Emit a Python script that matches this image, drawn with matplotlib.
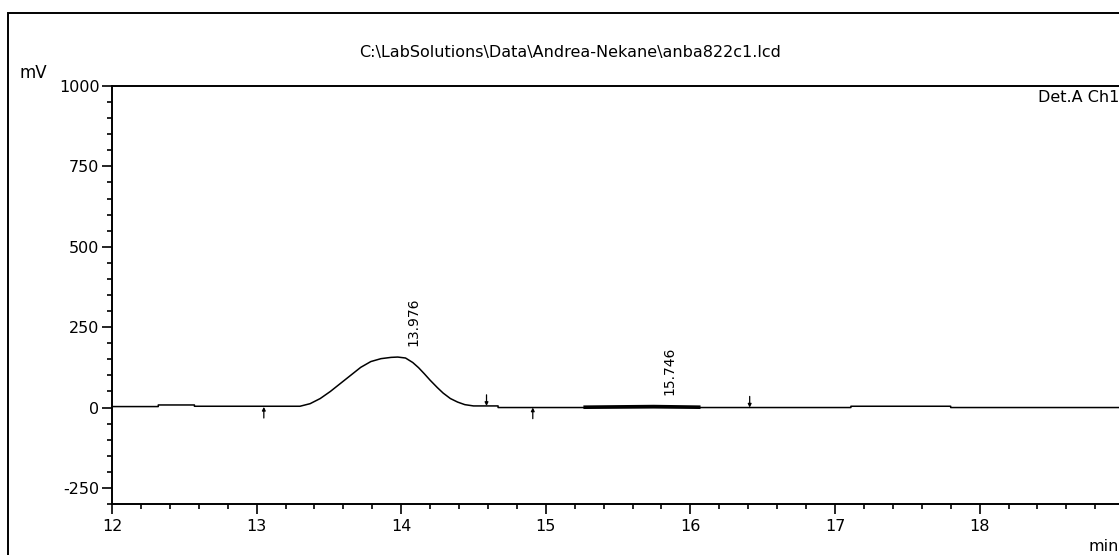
import matplotlib
matplotlib.use("Agg")
import matplotlib.pyplot as plt
from matplotlib.patches import Rectangle
from matplotlib.ticker import MultipleLocator

# ---- data ----
time_min = [12.00, 12.32, 12.32, 12.57, 12.57, 13.30, 13.37, 13.44, 13.51, 13.58,
            13.65, 13.72, 13.79, 13.86, 13.93, 13.976, 14.03, 14.08, 14.12, 14.16,
            14.20, 14.25, 14.29, 14.34, 14.39, 14.44, 14.50, 14.67, 14.67, 15.26,
            16.07, 17.11, 17.11, 17.80, 17.80, 20.00]
signal_mv = [3, 3, 8, 8, 4, 4, 12, 28, 50, 75,
             100, 125, 143, 152, 156, 157, 154, 140, 124, 105,
             85, 62, 45, 28, 17, 9, 5, 5, 0, 0,
             0, 0, 4, 4, 0, 0]

# small integrated peak at 15.746 (drawn as a thick baseline segment)
minor_peak_time = [15.26, 15.50, 15.746, 16.07]
minor_peak_mv = [1, 2, 3, 1]

peak_times = [13.976, 15.746]
peak_heights = [157, 3]
peak_labels = ["13.976", "15.746"]

marker_times = [13.05, 14.59, 14.91, 16.41]
marker_levels = [2, 5, 0, 0]
marker_dirs = ["up", "down", "up", "down"]

x_major = [12, 13, 14, 15, 16, 17, 18]
y_major = [-250, 0, 250, 500, 750, 1000]

title_text = "C:\\LabSolutions\\Data\\Andrea-Nekane\\anba822c1.lcd"

# ---- figure ----
W, H = 1119, 555
plt.rcParams['font.family'] = ['DejaVu Sans']
plt.rcParams['axes.unicode_minus'] = False
fig = plt.figure(figsize=(W / 100, H / 100), dpi=100)

# outer frame
fig.patches.append(Rectangle((8 / W, -0.2), 1.3, 0.2 + (H - 13) / H,
                             transform=fig.transFigure, fill=False,
                             edgecolor='black', lw=1.4))

ax_left, ax_top, ax_bottom = 112, 86, 504
px_per_min = 144.6
xmin, xmax = 12, 20
ax = fig.add_axes([ax_left / W, (H - ax_bottom) / H,
                   (xmax - xmin) * px_per_min / W, (ax_bottom - ax_top) / H])
ax.set_xlim(xmin, xmax)
ax.set_ylim(-300, 1000)

ax.plot(time_min, signal_mv, color='black', lw=1.1)
ax.plot(minor_peak_time, minor_peak_mv, color='black', lw=2.6, solid_capstyle='butt')

for t, h, lab in zip(peak_times, peak_heights, peak_labels):
    ax.annotate(lab, xy=(t, h), xytext=(6, 8), textcoords='offset points',
                rotation=90, ha='left', va='bottom', fontsize=10)

for t, lvl, d in zip(marker_times, marker_levels, marker_dirs):
    off = -8 if d == "up" else 8
    ax.annotate('', xy=(t, lvl), xytext=(0, off), textcoords='offset points',
                arrowprops=dict(arrowstyle='-|>', mutation_scale=5, lw=0.9,
                                color='black', shrinkA=0, shrinkB=0))

ax.set_xticks(x_major)
ax.set_yticks(y_major)
ax.xaxis.set_minor_locator(MultipleLocator(0.2))
ax.yaxis.set_minor_locator(MultipleLocator(50))
ax.tick_params(which='major', direction='out', length=7, width=1.2,
               labelsize=11.5, pad=2)
ax.tick_params(axis='x', which='major', pad=4)
ax.tick_params(which='minor', direction='out', length=3.5, width=1.2)
for s in ax.spines.values():
    s.set_linewidth(1.4)

fig.text(570 / W, 1 - 53 / H, title_text, ha='center', va='center', fontsize=11.5)
fig.text(33 / W, 1 - 73 / H, "mV", ha='center', va='center', fontsize=12)
fig.text(1038 / W, 1 - 97 / H, "Det.A Ch1", ha='left', va='center', fontsize=11.5)
fig.text(1088 / W, 1 - 539 / H, "min", ha='left', va='top', fontsize=11.5)

fig.savefig("out.png", dpi=100)
